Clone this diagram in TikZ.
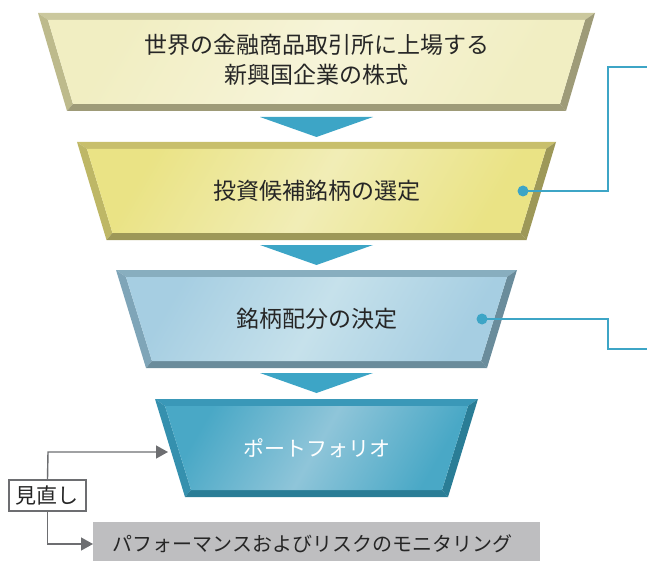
\documentclass[tikz,border=0pt]{standalone}
\usepackage{fontspec}
\setmainfont{Noto Sans CJK JP}
\usetikzlibrary{arrows.meta}
\definecolor{txt}{HTML}{262626}
\definecolor{accent}{HTML}{3DA5C6}
\definecolor{greyline}{HTML}{6D6E71}
\definecolor{greybox}{HTML}{BEBEC0}
% stage 1
\definecolor{aTop}{HTML}{CBC89E}\definecolor{aLeft}{HTML}{BDBA8C}\definecolor{aDark}{HTML}{9E9B78}
\definecolor{aF1}{HTML}{F1EEC2}\definecolor{aF2}{HTML}{F6F4D8}
% stage 2
\definecolor{bTop}{HTML}{C8BF6C}\definecolor{bLeft}{HTML}{BEB766}\definecolor{bDark}{HTML}{9D9858}
\definecolor{bF1}{HTML}{EAE385}\definecolor{bF2}{HTML}{F1EDB6}
% stage 3
\definecolor{cTop}{HTML}{88AEBF}\definecolor{cLeft}{HTML}{7FA5B8}\definecolor{cDark}{HTML}{6A8C9B}
\definecolor{cF1}{HTML}{A6CEE2}\definecolor{cF2}{HTML}{C6E1EB}
% stage 4
\definecolor{dTop}{HTML}{3A98B8}\definecolor{dLeft}{HTML}{3590AE}\definecolor{dDark}{HTML}{2A7D96}
\definecolor{dF1}{HTML}{49A8C6}\definecolor{dF2}{HTML}{8FC5D9}
\newcommand\funnelstage[6]{% name, ytop, ybot, htop, hbot, colour prefix
  \coordinate (#1-TL) at ({316.5-#4},#2);
  \coordinate (#1-TR) at ({316.5+#4},#2);
  \coordinate (#1-BL) at ({316.5-#5},#3);
  \coordinate (#1-BR) at ({316.5+#5},#3);
  \coordinate (#1-iTL) at ({316.5-#4+10},{#2+7});
  \coordinate (#1-iTR) at ({316.5+#4-10},{#2+7});
  \coordinate (#1-iBL) at ({316.5-#5+6},{#3-7});
  \coordinate (#1-iBR) at ({316.5+#5-6},{#3-7});
  \fill[#6Top] (#1-TL) -- (#1-TR) -- (#1-iTR) -- (#1-iTL) -- cycle;
  \fill[#6Left] (#1-TL) -- (#1-iTL) -- (#1-iBL) -- (#1-BL) -- cycle;
  \fill[#6Dark] (#1-BL) -- (#1-iBL) -- (#1-iBR) -- (#1-BR) -- cycle;
  \fill[#6Dark] (#1-TR) -- (#1-BR) -- (#1-iBR) -- (#1-iTR) -- cycle;
  \shade[left color=#6F1, right color=#6F1, middle color=#6F2, shading angle=60]
    (#1-iTL) -- (#1-iTR) -- (#1-iBR) -- (#1-iBL) -- cycle;
}
\tikzset{
  stagetext/.style={text=txt, font=\fontsize{23}{30}\selectfont, align=center, inner sep=0pt},
  pointer/.style={fill=accent, draw=none},
  leader/.style={draw=accent, line width=1.3pt},
  dot/.style={circle, fill=accent, inner sep=0pt, minimum size=11pt},
  review/.style={draw=greyline, line width=1.4pt, -{Triangle[length=12pt,width=13pt]}},
}
\begin{document}
\begin{tikzpicture}[x=1pt,y=-1pt]
\useasboundingbox (0,0) rectangle (647,561);
% stages
\funnelstage{s1}{13}{111}{278.5}{249.5}{a}
\funnelstage{s2}{142}{240}{239.5}{210}{b}
\funnelstage{s3}{270}{368}{200.5}{170.5}{c}
\funnelstage{s4}{399}{497}{161.5}{131.5}{d}
% pointers between stages
\fill[pointer] (260,117) -- (373,117) -- (316.5,137) -- cycle;
\fill[pointer] (260,245) -- (373,245) -- (316.5,265) -- cycle;
\fill[pointer] (260,373) -- (373,373) -- (316.5,393) -- cycle;
% texts
\node[stagetext] (t1) at (316.5,60) {世界の金融商品取引所に上場する\\新興国企業の株式};
\node[stagetext] (t2) at (316.5,191) {投資候補銘柄の選定};
\node[stagetext] (t3) at (316.5,319) {銘柄配分の決定};
\node[stagetext, text=white, font=\fontsize{21}{21}\selectfont] (t4) at (316.5,448) {ポートフォリオ};
% leaders on the right
\node[dot] (d2) at (523,191) {};
\node[dot] (d3) at (482,319) {};
\coordinate (e2) at (647,67);
\coordinate (e3) at (647,349);
\draw[leader] (d2.center) -- (608,191) |- (e2);
\draw[leader] (d3.center) -- (608,319) |- (e3);
% review loop
\node[draw=greyline, line width=1.2pt, fill=white, minimum width=77pt, minimum height=31pt,
      inner sep=0pt, text=txt, font=\fontsize{21}{21}\selectfont] (rv) at (47.5,495.5) {見直し};
\node[fill=greybox, minimum width=447pt, minimum height=40pt, inner sep=0pt, anchor=north west] (mon) at (93,522) {};
\node[text=txt, font=\fontsize{20}{20}\selectfont, inner sep=0pt] (montext) at (312.5,544) {パフォーマンスおよびリスクのモニタリング};
\coordinate (a4) at (168,452);
\draw[review] (rv.north) -- (48,452) -- (a4);
\draw[review] (rv.south) |- (mon.west |- 0,544);
\end{tikzpicture}
\end{document}
